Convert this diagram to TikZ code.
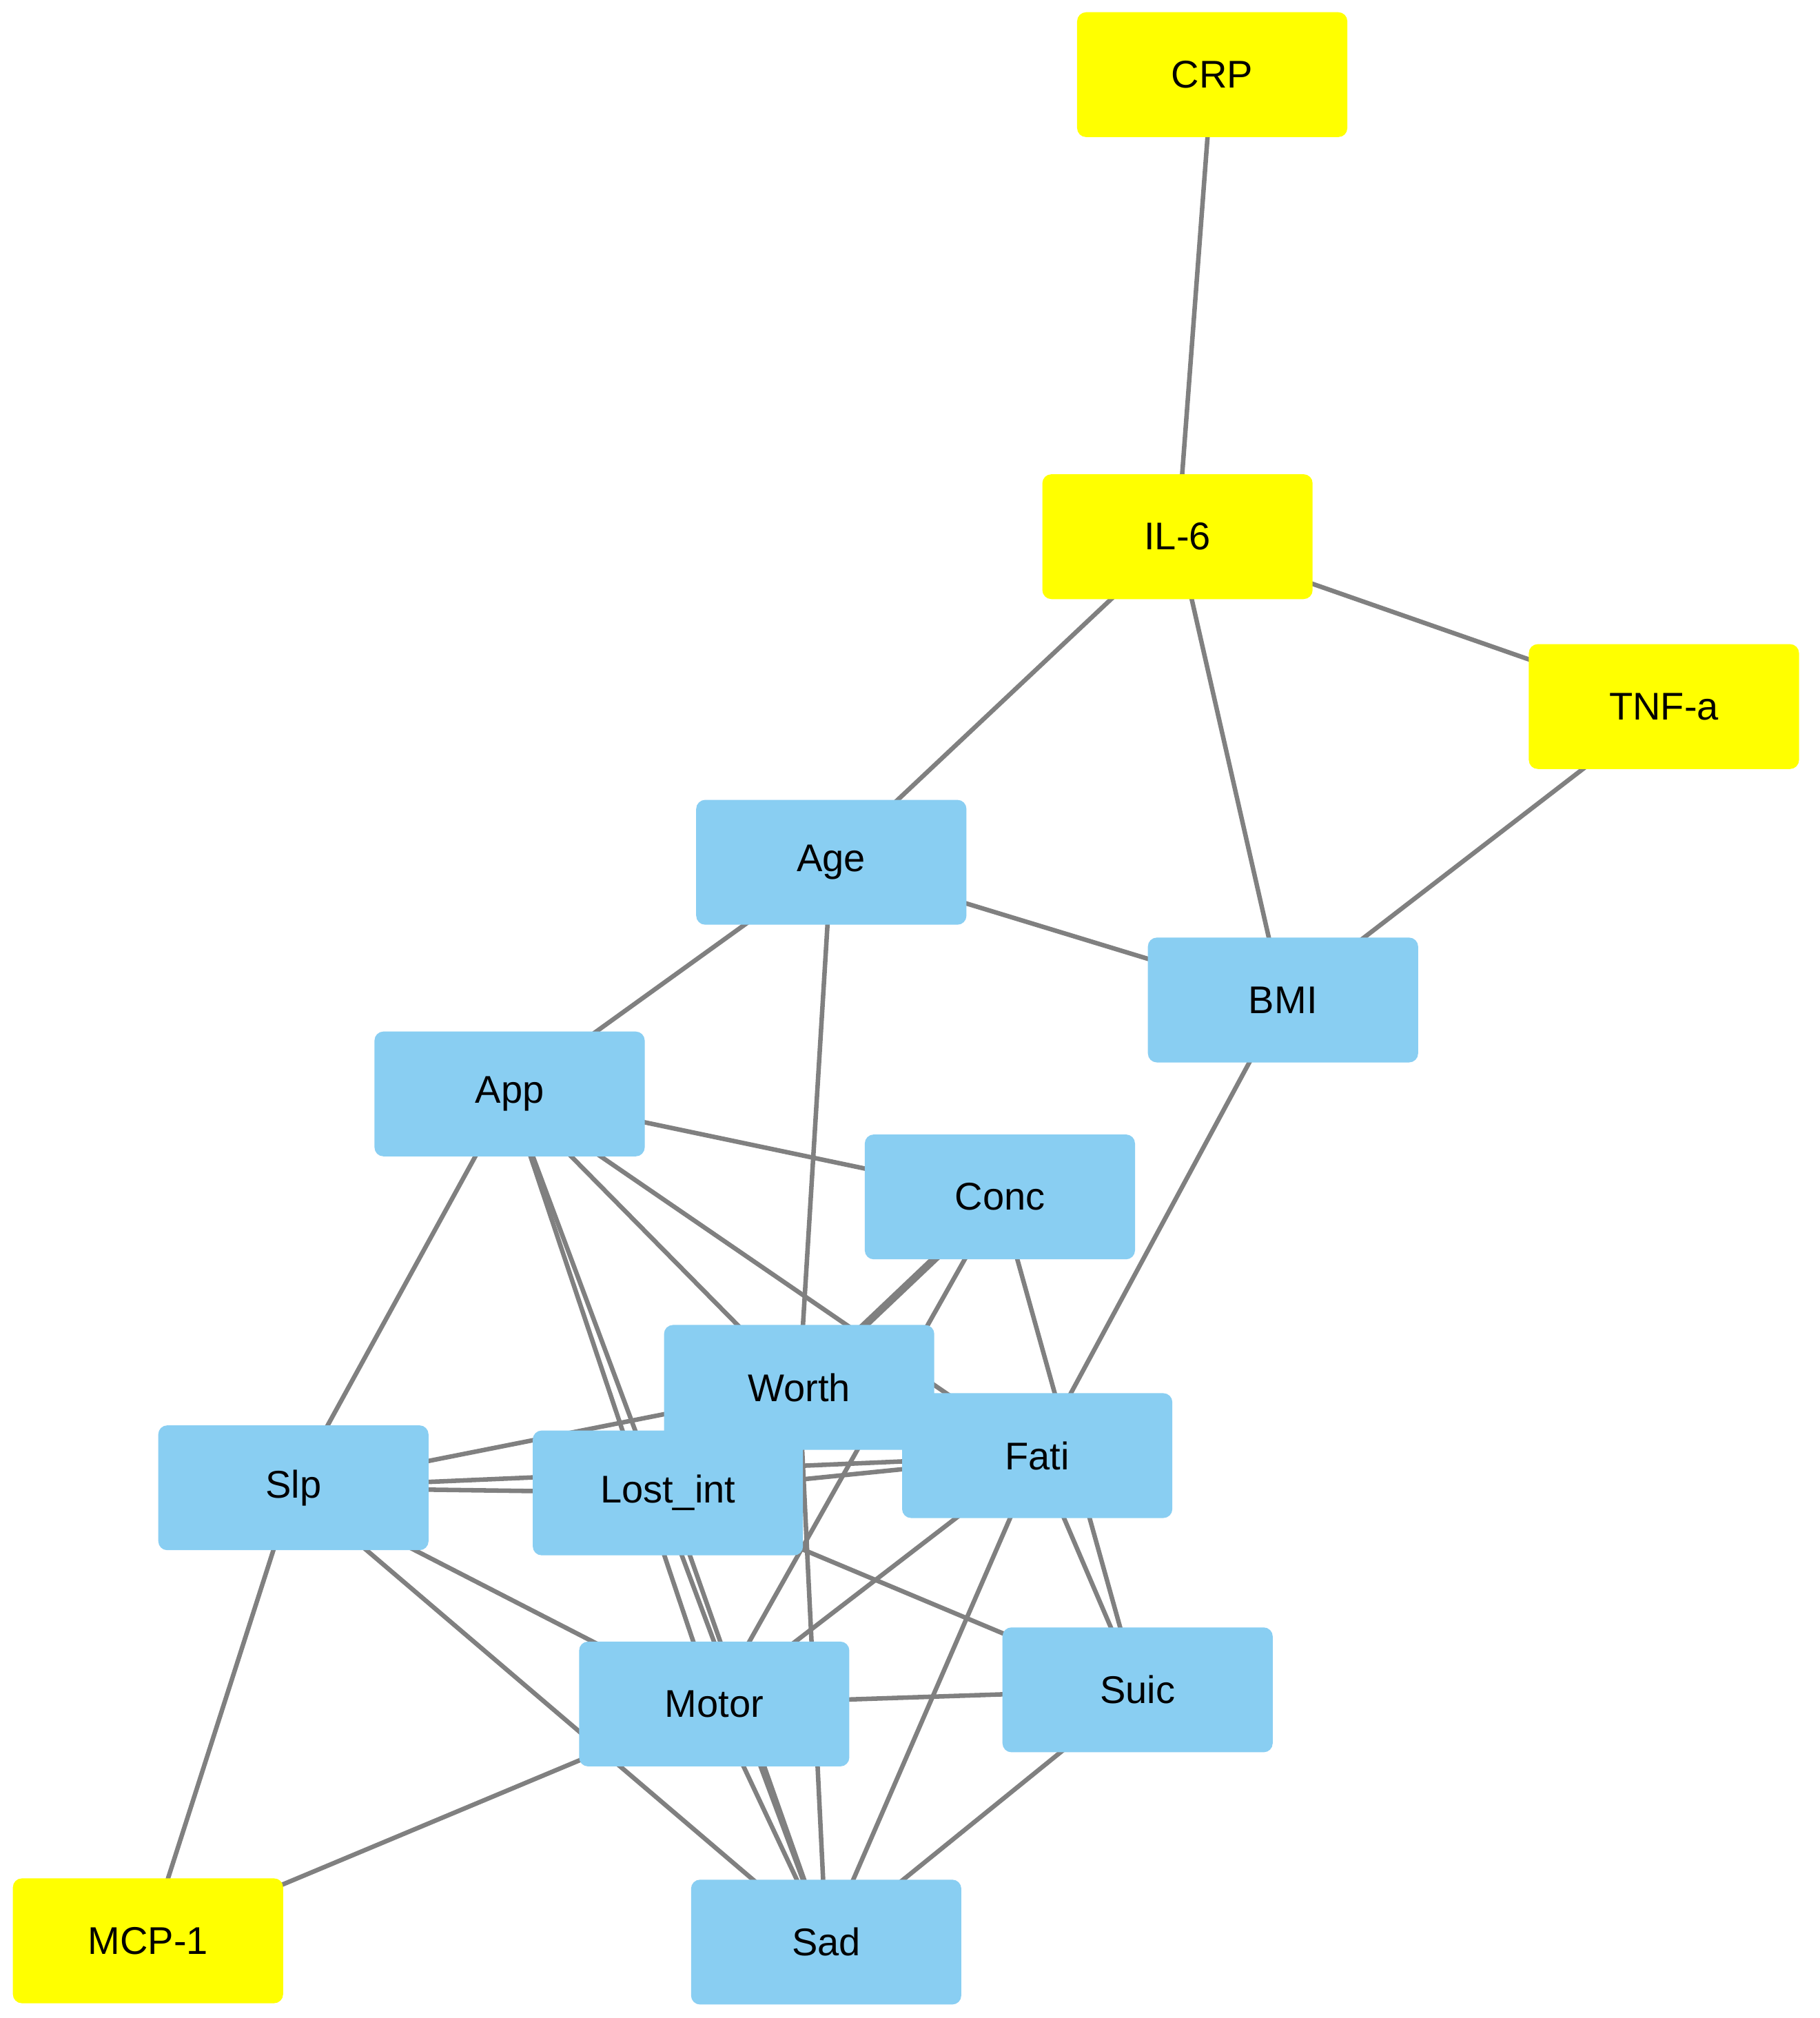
\documentclass[tikz,border=0pt]{standalone}
\usepackage{fontspec}
\setmainfont{Liberation Sans}
\begin{document}
\begin{tikzpicture}[x=1pt,y=-1pt,
  n/.style={rounded corners=7pt,minimum width=210pt,minimum height=97pt,inner sep=0pt,font=\fontsize{30}{36}\selectfont},
  b/.style={n,fill={rgb,255:red,137;green,206;blue,242}},
  yl/.style={n,fill={rgb,255:red,255;green,255;blue,0}},
  e/.style={draw={rgb,255:red,128;green,128;blue,128},line width=3.5pt}]
\useasboundingbox (0,0) rectangle (1414,1568);
\fill[white] (0,0) rectangle (1414,1568);
\path (942,58) coordinate (CRP) (915,417) coordinate (IL6) (1293,549) coordinate (TNF)
 (646,670) coordinate (Age) (997,777) coordinate (BMI) (396,850) coordinate (App)
 (777,930) coordinate (Conc) (621,1078) coordinate (Worth) (806,1131) coordinate (Fati)
 (228,1156) coordinate (Slp) (519,1160) coordinate (Lost) (555,1324) coordinate (Motor)
 (884,1313) coordinate (Suic) (115,1508) coordinate (MCP) (642,1509) coordinate (Sad);
\foreach \a/\b in {CRP/IL6,IL6/TNF,IL6/Age,IL6/BMI,TNF/BMI,Age/BMI,Age/App,Age/Worth,BMI/Fati,
 App/Conc,App/Slp,App/Motor,App/Sad,App/Worth,App/Fati,Conc/Motor,Conc/Suic,
 Slp/Worth,Slp/Lost,Slp/Fati,Slp/Motor,Slp/Sad,Slp/MCP,Lost/Fati,Lost/Sad,Lost/Suic,
 Worth/Sad,Worth/Fati,Fati/Motor,Fati/Sad,Fati/Suic,Motor/Suic,Motor/Sad,Motor/MCP,Suic/Sad}
 \draw[e] (\a) -- (\b);
\draw[e,line width=6pt] (Conc) -- (Worth);
\node[yl] (nCRP) at (CRP) {CRP};
\node[yl] (nIL6) at (IL6) {IL-6};
\node[yl] (nTNF) at (TNF) {TNF-a};
\node[b] (nAge) at (Age) {Age};
\node[b] (nBMI) at (BMI) {BMI};
\node[b] (nApp) at (App) {App};
\node[b] (nConc) at (Conc) {Conc};
\node[b] (nWorth) at (Worth) {Worth};
\node[b] (nFati) at (Fati) {Fati};
\node[b] (nSlp) at (Slp) {Slp};
\node[b] (nLost) at (Lost) {Lost\_int};
\node[b] (nMotor) at (Motor) {Motor};
\node[b] (nSuic) at (Suic) {Suic};
\node[yl] (nMCP) at (MCP) {MCP-1};
\node[b] (nSad) at (Sad) {Sad};
\end{tikzpicture}
\end{document}
